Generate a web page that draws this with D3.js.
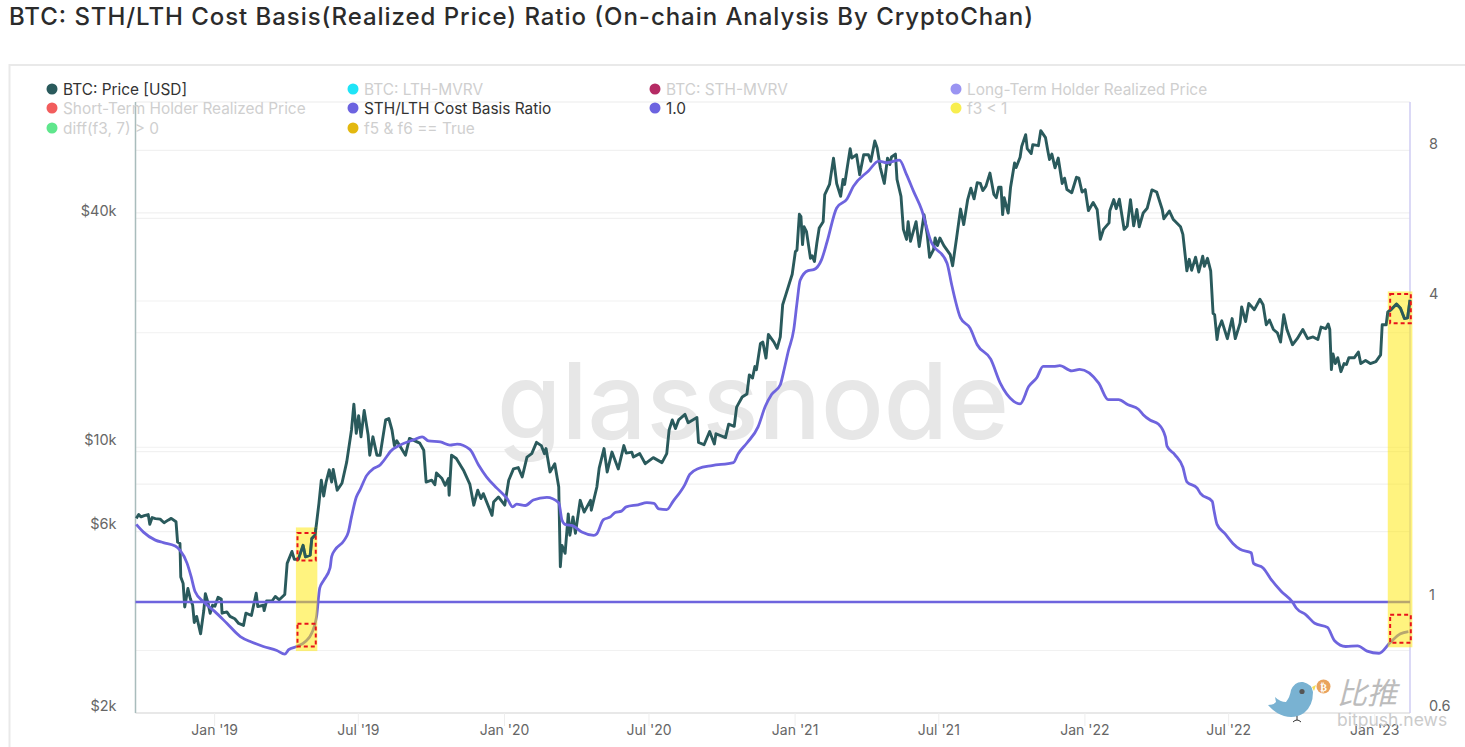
<!DOCTYPE html>
<html><head><meta charset="utf-8">
<script src="https://cdn.jsdelivr.net/npm/d3@7"></script>
<style>html,body{margin:0;padding:0;background:#fff;overflow:hidden}svg{display:block}text{font-family:Inter,"Noto Sans",sans-serif}</style>
</head><body>
<svg id="c" width="1465" height="747"></svg>
<script>
// Days since 2019-01-01 and BTC price, thousands of USD
const priceDays=[-98,-95,-92,-88,-83,-81,-78,-74,-68,-63,-58,-54,-48,-46,-43,-42,-39,-37,-33,-30,-27,-25,-22,-17,-13,-11,-8,-5,-2,1,5,9,10,16,20,26,31,37,40,47,53,55,62,63,66,73,77,82,89,92,98,101,106,112,115,121,123,127,129,132,135,138,141,145,148,150,155,161,167,173,176,179,182,185,189,194,196,200,205,209,216,220,224,227,230,241,246,259,264,267,274,278,280,287,291,295,296,299,305,314,322,327,332,336,339,350,352,358,366,371,377,383,388,394,400,406,412,416,418,423,429,434,436,438,442,446,448,452,455,461,466,474,475,482,485,491,495,501,509,516,519,526,528,536,543,553,564,570,573,577,581,585,593,597,608,610,617,624,630,632,644,648,655,658,665,671,674,678,681,683,688,691,695,698,705,709,713,716,720,728,732,734,737,739,741,743,746,751,753,756,759,762,767,769,775,780,784,789,792,794,801,803,809,813,818,824,827,832,835,839,844,848,851,853,858,860,865,868,872,874,877,884,888,894,898,901,906,908,911,914,919,927,930,935,940,944,949,953,957,961,965,968,972,977,982,985,988,991,993,995,1000,1003,1008,1010,1015,1017,1022,1024,1029,1031,1038,1041,1047,1050,1052,1055,1059,1063,1068,1071,1074,1080,1086,1089,1093,1097,1101,1107,1112,1116,1120,1127,1128,1133,1136,1140,1146,1150,1154,1158,1162,1165,1170,1175,1181,1187,1194,1196,1203,1208,1217,1220,1225,1228,1231,1236,1240,1245,1247,1251,1255,1258,1260,1263,1265,1269,1276,1282,1286,1292,1294,1299,1303,1310,1317,1321,1325,1329,1334,1339,1343,1347,1351,1358,1364,1371,1377,1384,1390,1394,1400,1403,1405,1407,1409,1412,1415,1419,1423,1426,1429,1436,1441,1444,1450,1456,1463,1469,1471,1476,1478,1482,1489,1494,1499,1503,1506];
const priceK=[6.5,6.65,6.56,6.61,6.65,6.27,6.53,6.49,6.47,6.33,6.43,6.5,6.37,5.63,5.58,4.56,4.38,3.8,4.25,4,3.84,3.46,3.59,3.23,3.72,4.12,3.92,3.66,3.84,3.82,4.03,3.99,3.66,3.69,3.59,3.54,3.44,3.4,3.66,3.61,4.13,3.81,3.84,3.72,3.94,3.94,4.05,3.97,4.1,4.95,5.32,5.07,5.07,5.52,5.15,5.2,5.75,5.87,6.31,7.12,8.19,7.44,8.1,8.72,8.1,8.74,7.71,8.04,9.15,11.1,12.98,10.88,12.1,10.65,12.5,10.75,9.53,10.65,9.53,9.53,11.8,11.9,11.1,10.1,10.4,9.53,10.55,10.25,9.82,8.1,8.19,7.97,8.56,8.27,7.94,8.27,7.48,9.53,9.34,8.7,8,7.04,7.71,7.33,7.55,6.62,7.18,7.4,7.04,8.19,8.77,8.84,8.35,9.42,9.62,10.3,10.1,9.62,9.92,8.61,9.05,7.86,4.85,5.52,5.26,6.68,5.87,6.56,5.94,7.25,6.75,7.25,6.83,7.86,8.83,9.92,8.61,9.71,8.77,10.1,9.65,9.71,9.42,9.62,9.05,9.39,9.11,9.62,11.1,11.8,11.2,11.8,12.2,11.6,11.97,10.3,10.15,11,10.2,10.85,10.6,11.5,11.35,12.75,13.55,13.8,15.5,15.2,16.3,16,18.75,18.9,17.15,19.8,18.9,18.2,19.5,23.7,25.2,28.5,32.7,33,41,40.4,34.1,38,36.9,31.4,31.9,30.8,34.4,37.7,39.2,46.2,49.1,57.6,49.4,45.7,50.6,49.1,61,57.6,58.8,52.1,58.8,58.8,56.5,63.9,61.2,54.3,49.4,57.6,55.4,58,59,50.6,45.7,37.4,35.2,39.2,34.8,39.2,33.7,40.9,36.3,31.6,33.1,35.5,33.9,35.5,33.9,32.1,30,35.5,42.3,38.5,44.8,48,45,49.6,49.4,47.3,48.6,52.6,46.2,45.3,48.3,48.3,40.9,45.3,41.3,48.3,55.9,54.4,57.9,61.8,66.4,61,59.2,62.5,62.1,68,65.2,60,57.1,59,54.3,57.6,49.4,51,47.6,46.7,51.3,51,46.9,47.6,41.9,44,42.2,35.2,37.4,38.9,41.9,44.8,42.4,44.9,37.4,38.2,44.8,38.2,42.2,38,41.3,42.5,47.5,46.9,42.2,39.9,41.8,39.7,38,36.3,29.1,31.2,29.2,31.6,28.9,31.8,29.9,31.4,29.1,22.5,22.3,19.2,20.5,21.5,19.3,21.8,19.3,21.2,23.4,21.4,23.9,23,24.5,23.7,21,21.6,20.4,20,18.9,22.3,20.4,18.6,19.3,20.4,19.3,19.5,19.2,20.7,20.5,21.1,20.4,16,17.6,16.6,17.2,15.8,16.6,16.5,17.2,17.2,17.8,16.6,16.9,16.6,16.8,17.5,21,21,22.7,23,23.8,23.2,21.8,21.9,24.4];
// Days since 2019-01-01 and STH/LTH cost basis ratio
const ratioDays=[-98,-89,-74,-64,-49,-43,-34,-29,-24,-13,1,16,33,47,62,79,89,94,104,115,123,129,133,138,146,148,152,164,169,173,179,184,192,201,209,217,222,234,251,262,270,285,297,306,322,333,343,356,369,376,381,392,402,419,434,438,442,452,463,478,482,490,499,505,513,519,534,545,554,560,570,578,593,599,610,627,654,660,671,685,694,702,713,717,723,730,734,738,748,755,765,772,784,797,805,824,837,847,863,872,881,891,902,923,929,940,952,961,978,990,1007,1015,1026,1036,1044,1057,1065,1080,1090,1114,1126,1139,1151,1164,1170,1179,1189,1198,1200,1210,1220,1225,1238,1242,1257,1259,1263,1273,1283,1292,1306,1309,1321,1331,1344,1358,1363,1375,1386,1402,1411,1425,1440,1452,1467,1481,1494,1504];
const ratioValues=[1.43,1.38,1.33,1.315,1.295,1.27,1.195,1.125,1.05,1,.957,.907,.853,.832,.815,.8,.787,.803,.815,.834,.867,.935,1.066,1.105,1.17,1.233,1.27,1.33,1.38,1.48,1.62,1.68,1.79,1.85,1.88,1.95,2,2.06,2.11,2.14,2.1,2.09,2.06,2.07,2.02,1.88,1.78,1.69,1.61,1.55,1.57,1.56,1.6,1.62,1.58,1.46,1.43,1.42,1.38,1.36,1.37,1.46,1.48,1.51,1.52,1.55,1.565,1.58,1.575,1.535,1.53,1.59,1.72,1.8,1.85,1.875,1.9,1.98,2.08,2.24,2.46,2.6,2.72,2.88,3.17,3.51,3.96,4.4,4.6,4.62,4.84,5.26,6.14,6.4,6.78,7.28,7.62,7.56,7.65,7.16,6.62,6.09,5.3,4.76,4.3,3.7,3.53,3.27,3.06,2.74,2.52,2.49,2.7,2.81,2.96,2.96,2.97,2.9,2.92,2.74,2.54,2.54,2.48,2.43,2.37,2.31,2.27,2.14,2.05,1.97,1.86,1.74,1.69,1.65,1.59,1.53,1.43,1.37,1.31,1.275,1.255,1.195,1.17,1.11,1.05,1,.972,.943,.907,.89,.837,.815,.817,.798,.79,.83,.864,.873];
const referenceLevel=1.0;
const xTickLabels=["2019-01-01","2019-07-01","2020-01-01","2020-07-01","2021-01-01","2021-07-01","2022-01-01","2022-07-01","2023-01-01"];
const priceTicks=[2,6,10,40];
const ratioTicks=[.6,1,4,8];
const priceGrid=[6,8,10,20,40];
const ratioGrid=[.8,2,4,6,8];
const legendRows=[
 [["BTC: Price [USD]","#2a5a5c",1],["BTC: LTH-MVRV","#1fe4f7",0],["BTC: STH-MVRV","#b52b64",0],["Long-Term Holder Realized Price","#9a94f2",0]],
 [["Short-Term Holder Realized Price","#f25d5d",0],["STH/LTH Cost Basis Ratio","#6c63e0",1],["1.0","#6c63e0",1],["f3 < 1","#f8ee4f",0]],
 [["diff(f3, 7) > 0","#5fe68c",0],["f5 & f6 == True","#e3b80f",0]]
];
// Highlighted windows: day range, ratio range of the band, price range and ratio range of the dashed boxes
const bands=[
 {days:[103,130],ratio:[.798,1.41],boxDays:[105,128],boxPrice:[5.04,5.95],boxRatio:[.815,.905]},
 {days:[1478,1509],ratio:[.812,4.18],boxDays:[1481,1507],boxPrice:[21.2,25.3],boxRatio:[.829,.943]}
];

const L=135.5,R=1410,T=102,B=713;
const base=Date.UTC(2019,0,1);
const toDate=d=>new Date(base+d*864e5);
const x=d3.scaleUtc().domain([toDate(-99),toDate(1506)]).range([L,R]);
const yP=d3.scaleLog().domain([2,80.9]).range([B,T]);
const yR=d3.scaleLog().domain([.6,10]).range([B,T]);
const svg=d3.select("#c");

svg.append("text").attr("x",9).attr("y",25).attr("font-size",24).attr("fill","#2b2b2b").attr("font-weight",500)
 .attr("textLength",1024).attr("lengthAdjust","spacing").text("BTC: STH/LTH Cost Basis(Realized Price) Ratio (On-chain Analysis By CryptoChan)");
svg.append("path").attr("d","M1465 65H9.5V747").attr("fill","none").attr("stroke","#e9e9e9").attr("stroke-width",2);

// grid
const grid=svg.append("g").attr("stroke","#f1f1f1").attr("stroke-width",1.2);
priceGrid.forEach(v=>grid.append("line").attr("x1",L).attr("x2",R).attr("y1",yP(v)).attr("y2",yP(v)));
ratioGrid.forEach(v=>grid.append("line").attr("x1",L).attr("x2",R).attr("y1",yR(v)).attr("y2",yR(v)));
grid.append("line").attr("x1",L).attr("x2",R).attr("y1",T).attr("y2",T).attr("stroke","#ececec");

// watermark
svg.append("text").attr("x",497).attr("y",439).attr("font-size",106).attr("font-weight",500).attr("fill","#e7e7e7")
 .attr("textLength",512).attr("lengthAdjust","spacingAndGlyphs").text("glassnode");

// axes
const axB=svg.append("g").attr("transform",`translate(0,${B})`)
 .call(d3.axisBottom(x).tickValues(xTickLabels.map(s=>new Date(s+"T00:00:00Z"))).tickFormat(d3.utcFormat("%b '%y")).tickSize(13).tickPadding(6));
axB.select(".domain").attr("stroke","#e0e0e0").attr("stroke-width",1.5).attr("d",`M${L},0H${R}`);
axB.selectAll(".tick line").attr("stroke","#eeeeee");
axB.selectAll("text").attr("font-size",14).attr("fill","#666").attr("dy",".2em");
const axL=svg.append("g").attr("transform",`translate(${L},0)`)
 .call(d3.axisLeft(yP).tickValues(priceTicks).tickFormat(d=>`$${d}k`).tickSize(0).tickPadding(19));
axL.select(".domain").attr("stroke","#a9bcbc").attr("stroke-width",1.5).attr("d",`M0,${T}V${B}`);
axL.selectAll("text").attr("font-size",14.5).attr("fill","#666").attr("dy","-.18em");
const axR=svg.append("g").attr("transform",`translate(${R},0)`)
 .call(d3.axisRight(yR).tickValues(ratioTicks).tickFormat(d=>d).tickSize(0).tickPadding(19));
axR.select(".domain").attr("stroke","#cfcdf3").attr("stroke-width",1.5).attr("d",`M0,${T}V${B}`);
axR.selectAll("text").attr("font-size",14.5).attr("fill","#666").attr("dy","-.15em");

// series
const priceRows=priceDays.map((d,i)=>[toDate(d),priceK[i]]);
const ratioRows=ratioDays.map((d,i)=>[toDate(d),ratioValues[i]]);
const priceLine=d3.line().x(r=>x(r[0])).y(r=>yP(r[1]));
svg.append("path").attr("fill","none").attr("stroke","#2a5a5c").attr("stroke-width",2.9).attr("stroke-linejoin","round").attr("d",priceLine(priceRows));
svg.append("path").attr("fill","none").attr("stroke","#6e64de").attr("stroke-width",2.8).attr("stroke-linejoin","round")
 .attr("d",d3.line().curve(d3.curveMonotoneX).x(r=>x(r[0])).y(r=>yR(r[1]))(ratioRows));
svg.append("line").attr("x1",L).attr("x2",R).attr("y1",yR(referenceLevel)).attr("y2",yR(referenceLevel)).attr("stroke","#6e64de").attr("stroke-width",2.6);

// highlights
const clip=svg.append("clipPath").attr("id","bandClip");
bands.forEach(b=>{
 const x0=x(toDate(b.days[0])),x1=x(toDate(b.days[1]));
 svg.append("rect").attr("x",x0).attr("width",x1-x0).attr("y",yR(b.ratio[1])).attr("height",yR(b.ratio[0])-yR(b.ratio[1])).attr("fill","rgba(255,231,0,.5)");
 clip.append("rect").attr("x",x0).attr("width",x1-x0).attr("y",yR(b.ratio[1])).attr("height",yR(b.ratio[0])-yR(b.ratio[1]));
});
// the price line stays dark above the bands
svg.append("path").attr("clip-path","url(#bandClip)").attr("fill","none").attr("stroke","#2a5a5c").attr("stroke-width",2.9).attr("stroke-linejoin","round").attr("d",priceLine(priceRows));
bands.forEach(b=>{
 const bx0=x(toDate(b.boxDays[0])),bx1=x(toDate(b.boxDays[1]));
 [[yP(b.boxPrice[1]),yP(b.boxPrice[0])],[yR(b.boxRatio[1]),yR(b.boxRatio[0])]].forEach(([a,c])=>
  svg.append("rect").attr("x",bx0).attr("width",bx1-bx0).attr("y",a).attr("height",c-a).attr("fill","none")
   .attr("stroke","#e8131b").attr("stroke-width",2).attr("stroke-dasharray","4 3"));
});

// legend
const colX=[52,353,655,956],rowY=[89,108,128];
legendRows.forEach((row,r)=>row.forEach((e,c)=>{
 svg.append("circle").attr("cx",colX[c]).attr("cy",rowY[r]).attr("r",5.5).attr("fill",e[1]);
 svg.append("text").attr("x",colX[c]+11).attr("y",rowY[r]+5.5).attr("font-size",15.4).attr("fill",e[2]?"#333":"#cfcfcf").text(e[0]);
}));

// publisher mark
const m=svg.append("g");
m.append("path").attr("fill","#79b2d2").attr("d","M1268 705Q1274 705 1276 702L1275 697Q1280 702 1286 702Q1290 697 1291 690Q1295 681 1303 682Q1312 684 1313 692Q1313 706 1304 713Q1295 719 1284 716Q1275 713 1268 705Z");
m.append("path").attr("fill","#f5dd55").attr("d","M1312 687L1316 685L1314 691Z");
m.append("circle").attr("cx",1302).attr("cy",691.5).attr("r",2.6).attr("fill","#555");
m.append("path").attr("stroke","#333").attr("stroke-width",1).attr("fill","none").attr("d","M1297 716V720M1293 722Q1297 718 1301 722");
m.append("circle").attr("cx",1323.5).attr("cy",686.5).attr("r",7).attr("fill","#e9a35e");
m.append("text").attr("x",1323.5).attr("y",690.5).attr("text-anchor","middle").attr("font-size",10).attr("font-weight",700).attr("fill","#fff").style("font-family","DejaVu Sans").text("₿");
m.append("text").attr("x",1337).attr("y",704).attr("font-size",30).attr("font-style","italic").attr("fill","#bcbcbc").style("font-family","Noto Sans CJK SC").text("比推");
m.append("text").attr("x",1337).attr("y",726).attr("font-size",17.5).attr("fill","#cbcbcb").text("bitpush.news");
</script></body></html>
